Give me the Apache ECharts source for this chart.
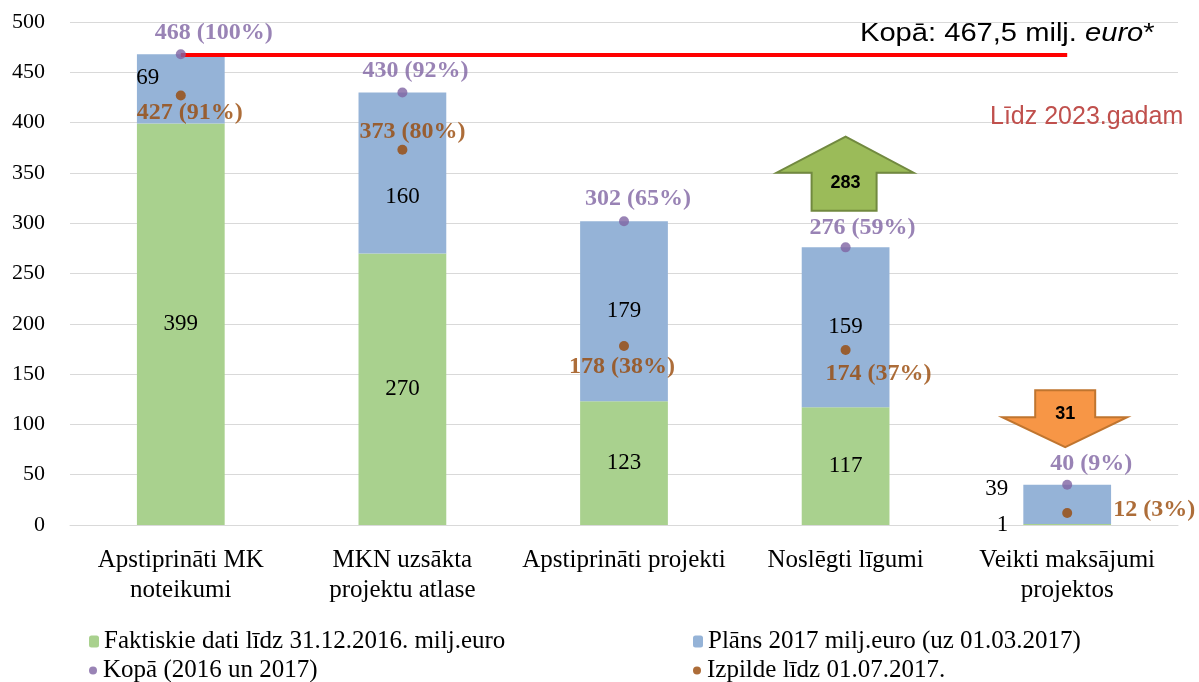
<!DOCTYPE html>
<html>
<head>
<meta charset="utf-8">
<script src="https://cdn.jsdelivr.net/npm/echarts@6/dist/echarts.min.js"></script>
<style>
html,body{margin:0;padding:0;background:#fff;}
#main{width:1199px;height:682px;}
</style>
</head>
<body>
<div id="main"></div>
<script>
// dati
var categories = ['Apstiprināti MK\nnoteikumi', 'MKN uzsākta\nprojektu atlase', 'Apstiprināti projekti', 'Noslēgti līgumi', 'Veikti maksājumi\nprojektos'];
var faktiskie = [399, 270, 123, 117, 1];
var plans = [69, 160, 179, 159, 39];
var kopa = [468, 430, 302, 276, 40];
var kopaPct = [100, 92, 65, 59, 9];
var izpilde = [427, 373, 178, 174, 12];
var izpildePct = [91, 80, 38, 37, 3];
var kopaTotal = 467.5;
var arrowLabels = ['283', '31'];
var yTicks = [0, 50, 100, 150, 200, 250, 300, 350, 400, 450, 500];

var serif = '"Liberation Serif", "Times New Roman", serif';
var sans = '"Liberation Sans", Arial, sans-serif';
var purple = '#8064A2', brown = '#984807';

// label nobīdes (px)
var kopaOff = [[33, -21], [13, -22], [14, -22], [17, -20], [24, -21]];
var izpOff = [[9, 17], [10, -18], [-2, 21], [33, 24], [87, -3]];

var chart = echarts.init(document.getElementById('main'));

var greenData = faktiskie.map(function (v, i) {
	if (i == 4) return {value: v, label: {position: 'left', offset: [-10, 0]}};
	return v;
});
var blueData = plans.map(function (v, i) {
	if (i == 0) return {value: v, label: {offset: [-33, -11]}};
	if (i == 1) return {value: v, label: {offset: [0, 24]}};
	if (i == 4) return {value: v, label: {position: 'left', offset: [-10, -15]}};
	return v;
});
var kopaData = kopa.map(function (v, i) {
	return {value: v, label: {offset: kopaOff[i], formatter: v + ' (' + kopaPct[i] + '%)'}};
});
var izpData = izpilde.map(function (v, i) {
	return {value: v, label: {offset: izpOff[i], formatter: v + ' (' + izpildePct[i] + '%)'}};
});

var barLabel = {show: true, position: 'inside', color: '#000', fontFamily: serif, fontSize: 23};
var dotLabel = function (c) {
	return {show: true, position: 'inside', color: c, fontFamily: serif, fontSize: 24, fontWeight: 'bold'};
};
var legendText = {fontFamily: serif, fontSize: 25, color: '#000'};

var option = {
	animation: false,
	backgroundColor: '#fff',
	grid: {left: 70, right: 21, top: 22, bottom: 157},
	legend: [
		{data: ['Faktiskie dati līdz 31.12.2016. milj.euro'], left: 84, top: 624, itemWidth: 10, itemHeight: 12, textStyle: legendText},
		{data: ['Plāns 2017 milj.euro (uz 01.03.2017)'], left: 688, top: 624, itemWidth: 10, itemHeight: 12, textStyle: legendText},
		{data: ['Kopā (2016 un 2017)'], left: 84, top: 653, itemWidth: 10, itemHeight: 8, textStyle: legendText},
		{data: ['Izpilde līdz 01.07.2017.'], left: 688, top: 653, itemWidth: 10, itemHeight: 8, textStyle: legendText}
	],
	xAxis: {
		type: 'category',
		data: categories,
		axisLine: {show: true, lineStyle: {color: '#D9D9D9', width: 1}},
		axisTick: {show: false},
		axisLabel: {interval: 0, margin: 20, color: '#000', fontFamily: serif, fontSize: 25, lineHeight: 30}
	},
	yAxis: {
		type: 'value',
		min: 0,
		max: 500,
		interval: 50,
		axisLine: {show: false},
		axisTick: {show: false},
		axisLabel: {margin: 25, color: '#000', fontFamily: serif, fontSize: 22,
			formatter: function (v) { return yTicks.indexOf(v) >= 0 ? v : ''; }},
		splitLine: {lineStyle: {color: '#D9D9D9', width: 1}}
	},
	series: [
		{
			name: 'Faktiskie dati līdz 31.12.2016. milj.euro',
			type: 'bar',
			stack: 'a',
			barWidth: '39.6%',
			data: greenData,
			itemStyle: {color: '#A9D18E'},
			label: barLabel
		},
		{
			name: 'Plāns 2017 milj.euro (uz 01.03.2017)',
			type: 'bar',
			stack: 'a',
			data: blueData,
			itemStyle: {color: '#95B3D7'},
			label: barLabel
		},
		{
			name: 'Kopā (2016 un 2017)',
			type: 'scatter',
			symbolSize: 10,
			z: 5,
			data: kopaData,
			itemStyle: {color: purple},
			label: dotLabel(purple),
			markLine: {
				silent: true,
				symbol: 'none',
				label: {show: false},
				lineStyle: {color: '#FF0000', width: 4, type: 'solid'},
				data: [[{coord: [categories[0], kopaTotal]}, {coord: [categories[4], kopaTotal]}]]
			}
		},
		{
			name: 'Izpilde līdz 01.07.2017.',
			type: 'scatter',
			symbolSize: 10,
			z: 5,
			data: izpData,
			itemStyle: {color: brown},
			label: dotLabel(brown)
		}
	]
};

chart.setOption(option);

// bultas un teksti
var gx = chart.convertToPixel({xAxisIndex: 0}, categories[3]);
var gy = chart.convertToPixel({yAxisIndex: 0}, 386);
var ox = chart.convertToPixel({xAxisIndex: 0}, categories[4]) - 2;
var oy = chart.convertToPixel({yAxisIndex: 0}, 134);

chart.setOption({
	graphic: [
		{
			type: 'text', x: 860, y: 34, scaleX: 1.12, z: 10,
			style: {
				text: '{a|Kopā: 467,5 milj. }{b|euro}{a|*}',
				verticalAlign: 'middle',
				rich: {
					a: {fontFamily: sans, fontSize: 26, fill: '#000'},
					b: {fontFamily: sans, fontSize: 26, fontStyle: 'italic', fill: '#000'}
				}
			}
		},
		{
			type: 'text', x: 990, y: 117, z: 10,
			style: {text: 'Līdz 2023.gadam', fontFamily: sans, fontSize: 25, fill: '#C0504D', verticalAlign: 'middle'}
		},
		{
			type: 'polygon', z: 10,
			shape: {points: [[gx, gy], [gx + 68, gy + 36], [gx + 31, gy + 36], [gx + 31, gy + 74], [gx - 34, gy + 74], [gx - 34, gy + 36], [gx - 69, gy + 36]]},
			style: {fill: '#9BBB59', stroke: '#71893F', lineWidth: 2}
		},
		{
			type: 'text', z: 11, x: gx, y: gy + 46,
			style: {text: arrowLabels[0], fontFamily: sans, fontSize: 18, fontWeight: 'bold', fill: '#000', align: 'center', verticalAlign: 'middle'}
		},
		{
			type: 'polygon', z: 10,
			shape: {points: [[ox - 30, oy], [ox + 30, oy], [ox + 30, oy + 27], [ox + 62, oy + 27], [ox, oy + 57], [ox - 63, oy + 27], [ox - 30, oy + 27]]},
			style: {fill: '#F79646', stroke: '#C0752F', lineWidth: 2}
		},
		{
			type: 'text', z: 11, x: ox, y: oy + 24,
			style: {text: arrowLabels[1], fontFamily: sans, fontSize: 18, fontWeight: 'bold', fill: '#000', align: 'center', verticalAlign: 'middle'}
		}
	]
});
</script>
</body>
</html>
